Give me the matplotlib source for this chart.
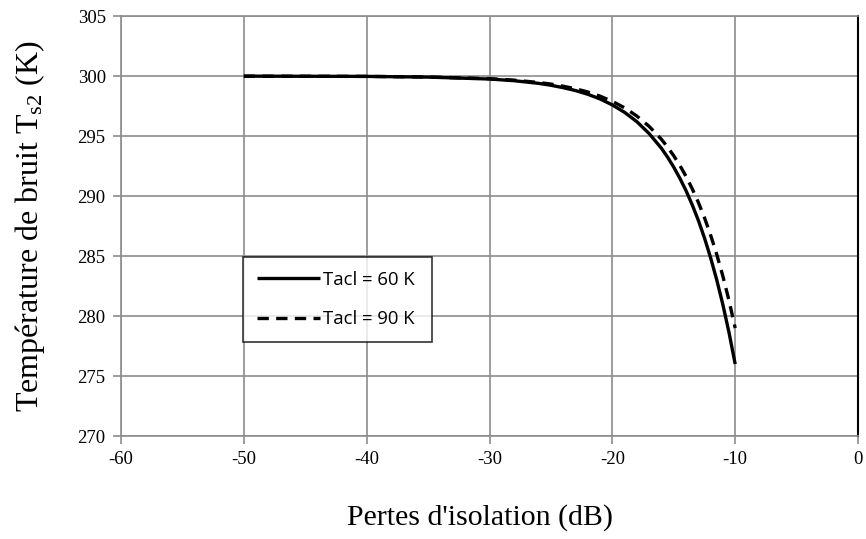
import matplotlib
matplotlib.use("Agg")
import matplotlib.pyplot as plt

plt.rcParams["mathtext.fontset"] = "custom"
plt.rcParams["mathtext.rm"] = "Liberation Serif"
plt.rcParams["mathtext.it"] = "Liberation Serif:italic"
plt.rcParams["axes.unicode_minus"] = False

# Data
pertes = [-50, -45, -40, -35, -30, -28, -26, -25, -24, -23, -22, -21, -20, -19, -18, -17, -16,
          -15.5, -15, -14.5, -14, -13.5, -13, -12.5, -12, -11.5, -11, -10.5, -10]
tacl_60 = [300.0, 299.99, 299.98, 299.92, 299.76, 299.62, 299.40, 299.24, 299.04, 298.80, 298.49,
           298.10, 297.6, 296.98, 296.2, 295.21, 293.98, 293.24, 292.41, 291.48, 290.45, 289.28,
           287.98, 286.51, 284.86, 283.01, 280.94, 278.61, 276.0]
tacl_90 = [300.0, 299.99, 299.98, 299.93, 299.79, 299.67, 299.47, 299.34, 299.16, 298.95, 298.68,
           298.33, 297.9, 297.36, 296.67, 295.81, 294.73, 294.08, 293.36, 292.55, 291.64, 290.62,
           289.48, 288.20, 286.75, 285.13, 283.32, 281.28, 279.0]
labels = ["Tacl = 60 K", "Tacl = 90 K"]
xticks = [-60, -50, -40, -30, -20, -10, 0]
yticks = [270, 275, 280, 285, 290, 295, 300, 305]

fig = plt.figure(figsize=(8.66, 5.39), dpi=100)
ax = fig.add_axes([0.1397, 0.191, 0.8511, 0.779])

grid_c = "#8c8c8c"
ax.plot(pertes, tacl_60, color="black", lw=2.4, label=labels[0], solid_capstyle="butt")
ax.plot(pertes, tacl_90, color="black", lw=2.4, ls=(0, (3.4, 2.2)), label=labels[1])

ax.set_xlim(-60, 0)
ax.set_ylim(270, 305)
ax.set_xticks(xticks)
ax.set_yticks(yticks)
ax.grid(True, color=grid_c, lw=1.2)
ax.set_axisbelow(True)

for s in ["left", "bottom", "top"]:
    ax.spines[s].set_color(grid_c)
    ax.spines[s].set_linewidth(1.2)
ax.spines["right"].set_color("black")
ax.spines["right"].set_linewidth(1.5)

tfont = {"family": "Liberation Serif"}
ax.tick_params(axis="both", which="major", color=grid_c, width=1.2, length=6,
               labelsize=13.5, direction="out", pad=5)
for lab in ax.get_xticklabels() + ax.get_yticklabels():
    lab.set_fontfamily("Liberation Serif")

ax.set_xlabel("Pertes d'isolation (dB)", fontdict=tfont, fontsize=21.5, labelpad=26, x=0.487)
ax.set_ylabel(r"Température de bruit T$_{\mathrm{s2}}$ (K)", fontdict=tfont, fontsize=23, labelpad=22)

leg = ax.legend(loc="lower left", bbox_to_anchor=(0.1655, 0.224, 0.256, 0.202), mode="expand",
                borderaxespad=0, frameon=True, fancybox=False, edgecolor="black", borderpad=0.75,
                labelspacing=1.15, handlelength=3.4, handletextpad=0.2,
                prop={"family": "Open Sans", "size": 13.3})
leg.get_frame().set_linewidth(1.2)

fig.savefig("out.png", dpi=100)
